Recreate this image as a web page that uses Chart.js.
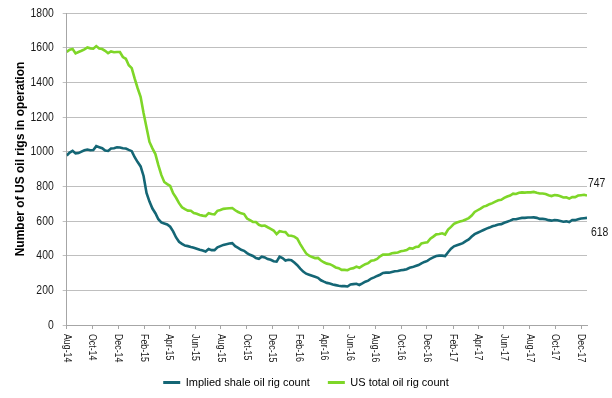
<!DOCTYPE html>
<html>
<head>
<meta charset="utf-8">
<script src="https://cdn.jsdelivr.net/npm/chart.js@4.4.1/dist/chart.umd.min.js"></script>
<style>
    html, body { margin: 0; padding: 0; background: #ffffff; }
    #wrap { width: 612px; height: 398px; }
</style>
</head>
<body>
<div id="wrap"><canvas id="grafico" width="612" height="398"></canvas></div>
<script>
// Weekly rig counts, one value per Friday starting 1 Aug 2014
var inicio = Date.UTC(2014, 7, 1);

var totalRigs = [
    1576, 1588, 1592, 1567, 1575, 1582, 1590, 1601, 1596, 1594,
    1609, 1595, 1592, 1582, 1568, 1578, 1574, 1575, 1575, 1546,
    1536, 1499, 1482, 1421, 1366, 1317, 1223, 1140, 1056, 1019,
    986, 922, 866, 825, 813, 802, 760, 734, 703, 679,
    668, 660, 659, 646, 642, 635, 631, 628, 645, 640,
    638, 659, 664, 670, 672, 674, 675, 662, 652, 644,
    640, 614, 605, 595, 594, 578, 572, 574, 564, 555,
    545, 524, 541, 538, 536, 516, 515, 510, 498, 467,
    439, 413, 400, 392, 386, 387, 372, 362, 354, 351,
    343, 332, 328, 318, 318, 316, 325, 328, 337, 330,
    341, 351, 357, 371, 374, 381, 396, 406, 406, 407,
    414, 416, 418, 425, 428, 432, 443, 441, 450, 452,
    471, 474, 477, 498, 510, 523, 525, 529, 522, 551,
    566, 583, 591, 597, 602, 609, 617, 631, 652, 662,
    672, 683, 688, 697, 703, 712, 720, 722, 733, 741,
    747, 758, 756, 763, 765, 764, 766, 765, 768, 763,
    759, 759, 756, 749, 744, 750, 748, 743, 736, 737,
    729, 738, 738, 747, 749, 751, 747
];

var shaleRigs = [
    978, 995, 1005, 990, 992, 1000, 1008, 1012, 1008, 1010,
    1032, 1026, 1020, 1006, 1004, 1018, 1020, 1025, 1024, 1020,
    1018, 1010, 1003, 968, 940, 915, 860, 762, 712, 672,
    645, 610, 592, 586, 580, 567, 540, 505, 480, 468,
    458, 455, 450, 446, 440, 434, 430, 424, 438, 432,
    432, 448, 455, 462, 466, 470, 472, 455, 445, 434,
    428, 415, 405, 398, 386, 382, 394, 390, 380, 376,
    368, 366, 394, 386, 372, 376, 374, 360, 345, 325,
    308, 296, 290, 284, 278, 272, 258, 250, 243, 240,
    234, 230, 226, 224, 224, 222, 234, 236, 238, 231,
    240, 250, 256, 268, 275, 283, 290, 300, 302, 302,
    306, 310, 312, 316, 318, 322, 330, 334, 340, 346,
    356, 364, 370, 382, 390, 398, 400, 400, 398, 420,
    440, 454, 460, 466, 472, 484, 494, 510, 524, 532,
    540, 548, 556, 562, 570, 574, 580, 582, 590, 596,
    602, 610, 610, 615, 618, 618, 620, 620, 621, 618,
    612, 612, 610, 605, 602, 606, 604, 600, 596, 598,
    594, 606, 605, 610, 614, 616, 618
];

var rotulosX = [
    'Aug-14', 'Oct-14', 'Dec-14', 'Feb-15', 'Apr-15', 'Jun-15', 'Aug-15',
    'Oct-15', 'Dec-15', 'Feb-16', 'Apr-16', 'Jun-16', 'Aug-16', 'Oct-16',
    'Dec-16', 'Feb-17', 'Apr-17', 'Jun-17', 'Aug-17', 'Oct-17', 'Dec-17'
];

var nomesSeries = ['Implied shale oil rig count', 'US total oil rig count'];
var tituloY = 'Number of US oil rigs in operation';

var meses = ['Jan', 'Feb', 'Mar', 'Apr', 'May', 'Jun', 'Jul', 'Aug', 'Sep', 'Oct', 'Nov', 'Dec'];
var fonte = '"Liberation Sans", Arial, sans-serif';
var corTexto = '#1a1a1a';

// dias desde o inicio para um rotulo tipo "Oct-14"
function diasDoRotulo(rotulo) {
    var partes = rotulo.split('-');
    var mes = meses.indexOf(partes[0]);
    var ano = 2000 + parseInt(partes[1], 10);
    return (Date.UTC(ano, mes, 1) - inicio) / 86400000;
}

var posicoesX = rotulosX.map(diasDoRotulo);

function paraPontos(valores) {
    return valores.map(function (v, i) { return { x: i * 7, y: v }; });
}

var ultimoDia = (totalRigs.length - 1) * 7;

// texto estreito (o original usa uma fonte condensada)
function textoEstreito(c, texto, x, y, escala, angulo) {
    c.save();
    c.translate(x, y);
    if (angulo) c.rotate(angulo);
    c.scale(escala, 1);
    c.fillText(texto, 0, 0);
    c.restore();
}

// Rotulos dos eixos, titulo e valores finais das series
var rotulosPlugin = {
    id: 'rotulosPlugin',
    afterDraw: function (chart) {
        var c = chart.ctx;
        var eixoX = chart.scales.x;
        var eixoY = chart.scales.y;
        c.save();
        c.fillStyle = corTexto;
        c.textBaseline = 'middle';

        c.font = '11px ' + fonte;
        c.textAlign = 'left';
        rotulosX.forEach(function (rotulo, i) {
            var px = eixoX.getPixelForValue(posicoesX[i]);
            textoEstreito(c, rotulo, px, eixoY.bottom + 9, 0.8, Math.PI / 2);
        });

        c.font = '13px ' + fonte;
        c.textAlign = 'right';
        eixoY.ticks.forEach(function (t) {
            textoEstreito(c, String(t.value), eixoY.right - 13, eixoY.getPixelForValue(t.value), 0.8);
        });

        c.textAlign = 'left';
        c.font = '12px ' + fonte;
        var metaTotal = chart.getDatasetMeta(1).data;
        var metaShale = chart.getDatasetMeta(0).data;
        var ptTotal = metaTotal[metaTotal.length - 1];
        var ptShale = metaShale[metaShale.length - 1];
        textoEstreito(c, String(totalRigs[totalRigs.length - 1]), ptTotal.x + 1, ptTotal.y - 12, 0.87);
        textoEstreito(c, String(shaleRigs[shaleRigs.length - 1]), ptShale.x + 4, ptShale.y + 15, 0.87);

        // titulo do eixo Y
        c.fillStyle = '#000000';
        c.font = 'bold 12px ' + fonte;
        c.textAlign = 'center';
        textoEstreito(c, tituloY, 21, 159, 1, -Math.PI / 2);
        c.restore();
    }
};

var ctx = document.getElementById('grafico').getContext('2d');

new Chart(ctx, {
    type: 'line',
    data: {
        datasets: [{
            label: nomesSeries[0],
            data: paraPontos(shaleRigs),
            borderColor: '#146675',
            backgroundColor: '#146675',
            borderWidth: 2.6,
            pointRadius: 0,
            tension: 0
        }, {
            label: nomesSeries[1],
            data: paraPontos(totalRigs),
            borderColor: '#7ed628',
            backgroundColor: '#7ed628',
            borderWidth: 2.6,
            pointRadius: 0,
            tension: 0
        }]
    },
    options: {
        responsive: false,
        animation: false,
        layout: { padding: { top: 13, left: 0, right: 0, bottom: 0 } },
        plugins: {
            tooltip: { enabled: false },
            legend: {
                position: 'bottom',
                labels: {
                    boxWidth: 17,
                    boxHeight: 3,
                    padding: 18,
                    color: corTexto,
                    font: { family: fonte, size: 11 },
                    generateLabels: function (chart) {
                        return chart.data.datasets.map(function (d, i) {
                            return {
                                text: d.label,
                                fillStyle: d.borderColor,
                                strokeStyle: d.borderColor,
                                lineWidth: 0,
                                hidden: false,
                                datasetIndex: i
                            };
                        });
                    }
                }
            }
        },
        scales: {
            x: {
                type: 'linear',
                min: 0,
                max: ultimoDia,
                afterBuildTicks: function (s) {
                    s.ticks = posicoesX.map(function (v) { return { value: v }; });
                },
                ticks: { display: false },
                grid: { drawOnChartArea: false, drawTicks: true, tickLength: 4, color: '#a6a6a6' },
                border: { color: '#a6a6a6', width: 1 },
                afterFit: function (s) { s.height = 34; }
            },
            y: {
                min: 0,
                max: 1800,
                ticks: { stepSize: 200, display: false },
                grid: { color: '#bfbfbf', lineWidth: 1, tickLength: 4 },
                border: { color: '#a6a6a6', width: 1 },
                title: { display: false },
                afterFit: function (s) { s.width = 66.7; }
            },
            yDireita: {
                type: 'linear',
                position: 'right',
                grid: { display: false },
                border: { display: false },
                ticks: { display: false },
                afterFit: function (s) { s.width = 25; }
            }
        }
    },
    plugins: [rotulosPlugin]
});
</script>
</body>
</html>
